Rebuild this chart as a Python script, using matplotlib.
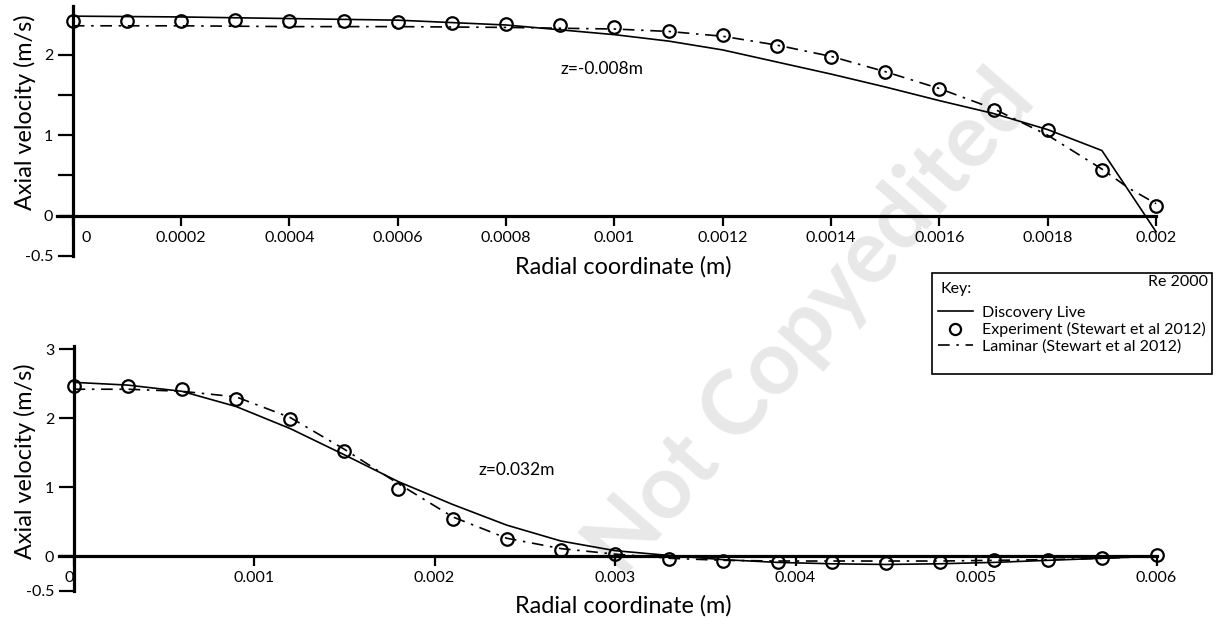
import matplotlib
matplotlib.use("Agg")
import matplotlib.pyplot as plt
from matplotlib.lines import Line2D
from matplotlib.patches import Rectangle
import matplotlib.transforms as mtransforms

# ---- z = -0.008 m (Re 2000) ---- #
top_r_exp = [0, 0.0001, 0.0002, 0.0003, 0.0004, 0.0005, 0.0006, 0.0007, 0.0008, 0.0009,
             0.001, 0.0011, 0.0012, 0.0013, 0.0014, 0.0015, 0.0016, 0.0017, 0.0018, 0.0019, 0.002]
top_u_exp = [2.42, 2.42, 2.42, 2.43, 2.42, 2.42, 2.41, 2.40, 2.38, 2.37,
             2.34, 2.30, 2.24, 2.11, 1.97, 1.78, 1.57, 1.32, 1.06, 0.57, 0.12]

top_r_lam = [0, 0.0002, 0.0004, 0.0006, 0.0008, 0.0009, 0.001, 0.0011, 0.0012, 0.0013,
             0.0014, 0.0015, 0.0016, 0.0017, 0.0018, 0.0019, 0.00195, 0.002]
top_u_lam = [2.36, 2.36, 2.35, 2.35, 2.34, 2.33, 2.32, 2.29, 2.23, 2.12,
             1.98, 1.79, 1.58, 1.33, 1.00, 0.58, 0.34, 0.15]

top_r_cfd = [0, 0.0002, 0.0004, 0.0006, 0.0008, 0.001, 0.0011, 0.0012, 0.0013,
             0.0014, 0.0015, 0.0016, 0.0017, 0.0018, 0.0019, 0.002]
top_u_cfd = [2.48, 2.47, 2.45, 2.43, 2.37, 2.25, 2.17, 2.06, 1.91,
             1.76, 1.60, 1.43, 1.27, 1.07, 0.81, -0.20]

# ---- z = 0.032 m ---- #
bot_r = [0, 0.0003, 0.0006, 0.0009, 0.0012, 0.0015, 0.0018, 0.0021, 0.0024, 0.0027, 0.003,
         0.0033, 0.0036, 0.0039, 0.0042, 0.0045, 0.0048, 0.0051, 0.0054, 0.0057, 0.006]
bot_u_exp = [2.46, 2.46, 2.42, 2.28, 1.99, 1.53, 0.98, 0.54, 0.245, 0.09, 0.03,
             -0.045, -0.07, -0.08, -0.08, -0.10, -0.08, -0.06, -0.05, -0.02, 0.01]
bot_u_lam = [2.42, 2.42, 2.39, 2.31, 2.01, 1.55, 1.05, 0.57, 0.26, 0.11, 0.03,
             -0.03, -0.06, -0.07, -0.07, -0.07, -0.07, -0.06, -0.05, -0.03, 0.0]

bot_r_cfd = [0, 0.0003, 0.0006, 0.0009, 0.0012, 0.0015, 0.0018, 0.0021, 0.0024, 0.0027, 0.003,
             0.0033, 0.0036, 0.0039, 0.0042, 0.0045, 0.0048, 0.0051, 0.0054, 0.0057, 0.006]
bot_u_cfd = [2.52, 2.48, 2.39, 2.17, 1.85, 1.47, 1.08, 0.75, 0.45, 0.22, 0.08,
             0.01, -0.05, -0.09, -0.11, -0.12, -0.11, -0.09, -0.06, -0.03, 0.0]

top_xticks = [0, 0.0002, 0.0004, 0.0006, 0.0008, 0.001, 0.0012, 0.0014, 0.0016, 0.0018, 0.002]
top_xlabels = ["0", "0.0002", "0.0004", "0.0006", "0.0008", "0.001", "0.0012",
               "0.0014", "0.0016", "0.0018", "0.002"]
bot_xticks = [0, 0.001, 0.002, 0.003, 0.004, 0.005, 0.006]
bot_xlabels = ["0", "0.001", "0.002", "0.003", "0.004", "0.005", "0.006"]
top_yticks = [-0.5, 0, 1, 2]
top_ylabels = ["-0.5", "0", "1", "2"]
top_yminor = [0.5, 1.5]
bot_yticks = [-0.5, 0, 1, 2, 3]
bot_ylabels = ["-0.5", "0", "1", "2", "3"]

labels = ["Discovery Live", "Experiment (Stewart et al 2012)", "Laminar (Stewart et al 2012)"]

plt.rcParams["font.family"] = ["Lato", "DejaVu Sans"]

DASHDOT = (0, (7, 4, 1.5, 4))
LW = 1.2
TICK_FS = 11.5


def style(ax, xticks, xlabels, yticks, ylabels, yminor=()):
    for s in ("top", "right"):
        ax.spines[s].set_visible(False)
    for s in ("left", "bottom"):
        ax.spines[s].set_position(("data", 0))
        ax.spines[s].set_linewidth(2.3)
    ax.set_xticks(xticks)
    ax.set_xticklabels(xlabels)
    ax.set_yticks(yticks)
    ax.set_yticklabels(ylabels)
    ax.set_yticks(list(yminor), minor=True)
    ax.tick_params(axis="x", direction="out", length=7, width=1.6, pad=4, labelsize=TICK_FS)
    ax.tick_params(axis="y", which="both", direction="out", length=11, width=1.6,
                   pad=3, labelsize=TICK_FS)
    ax.patch.set_visible(False)


def draw(ax, r_cfd, u_cfd, r_exp, u_exp, r_lam, u_lam):
    ax.plot(r_cfd, u_cfd, color="k", lw=LW, clip_on=False, zorder=3)
    ax.plot(r_lam, u_lam, color="k", lw=LW, ls=DASHDOT, clip_on=False, zorder=3)
    ax.plot(r_exp, u_exp, ls="none", marker="o", ms=9, mfc="none", mec="k",
            mew=1.6, clip_on=False, zorder=4)


fig = plt.figure(figsize=(12.19, 6.18), dpi=100)

# watermark, behind everything
fig.text(0.665, 0.475, "Not Copyedited", rotation=49, fontsize=64, weight="bold",
         color="#e8e8e8", ha="center", va="center", zorder=-5)

ax1 = fig.add_axes([0.0464, 0.5858, 0.902, 0.4037])
ax1.set_xlim(-0.00003, 0.002)
ax1.set_ylim(-0.5, 2.6)
draw(ax1, top_r_cfd, top_u_cfd, top_r_exp, top_u_exp, top_r_lam, top_u_lam)
style(ax1, top_xticks, top_xlabels, top_yticks, top_ylabels, top_yminor)
ax1.text(0.000977, 1.82, "z=-0.008m", ha="center", va="center", fontsize=12.5)
ax1.set_xlabel("Radial coordinate (m)", fontsize=16.8)
ax1.xaxis.set_label_coords(0.515, 0.0)
ax1.set_ylabel("Axial velocity (m/s)", fontsize=16.8)
ax1.yaxis.set_label_coords(-0.019, 0.577)

ax2 = fig.add_axes([0.0485, 0.0442, 0.9003, 0.3963])
ax2.set_xlim(-0.00008, 0.006)
ax2.set_ylim(-0.5, 3.05)
draw(ax2, bot_r_cfd, bot_u_cfd, bot_r, bot_u_exp, bot_r, bot_u_lam)
style(ax2, bot_xticks, bot_xlabels, bot_yticks, bot_ylabels)
ax2.text(0.002455, 1.25, "z=0.032m", ha="center", va="center", fontsize=12.5)
ax2.set_xlabel("Radial coordinate (m)", fontsize=16.8)
ax2.xaxis.set_label_coords(0.514, -0.018)
ax2.set_ylabel("Axial velocity (m/s)", fontsize=16.8)
ax2.yaxis.set_label_coords(-0.021, 0.53)

# the "0" labels sit off-centre in the original
fig.canvas.draw()
lab = ax1.get_xticklabels()[0]
lab.set_transform(lab.get_transform() + mtransforms.ScaledTranslation(0.13, 0, fig.dpi_scale_trans))
lab = ax2.get_xticklabels()[0]
lab.set_transform(lab.get_transform() + mtransforms.ScaledTranslation(-0.04, 0, fig.dpi_scale_trans))

# ---- key box ---- #
handles = [
    Line2D([], [], color="k", lw=LW),
    Line2D([], [], ls="none", marker="o", ms=8, mfc="none", mec="k", mew=1.6),
    Line2D([], [], color="k", lw=LW, ls=DASHDOT),
]
fig.patches.append(Rectangle((932 / 1219, 1 - 374 / 618), 280 / 1219, 101 / 618,
                             transform=fig.transFigure, fill=False, edgecolor="k", lw=1.2))
fig.text(940 / 1219, 1 - 289 / 618, "Key:", ha="left", va="center", fontsize=11.5)
fig.text(1208 / 1219, 1 - 282 / 618, "Re 2000", ha="right", va="center", fontsize=11.5)
leg = fig.legend(handles, labels, loc="upper left",
                 bbox_to_anchor=(936 / 1219, 1 - 304 / 618),
                 frameon=False, fontsize=11.5, borderaxespad=0, borderpad=0.1,
                 handlelength=2.2, handletextpad=0.6, labelspacing=0.15)

fig.savefig("out.png", dpi=100)
